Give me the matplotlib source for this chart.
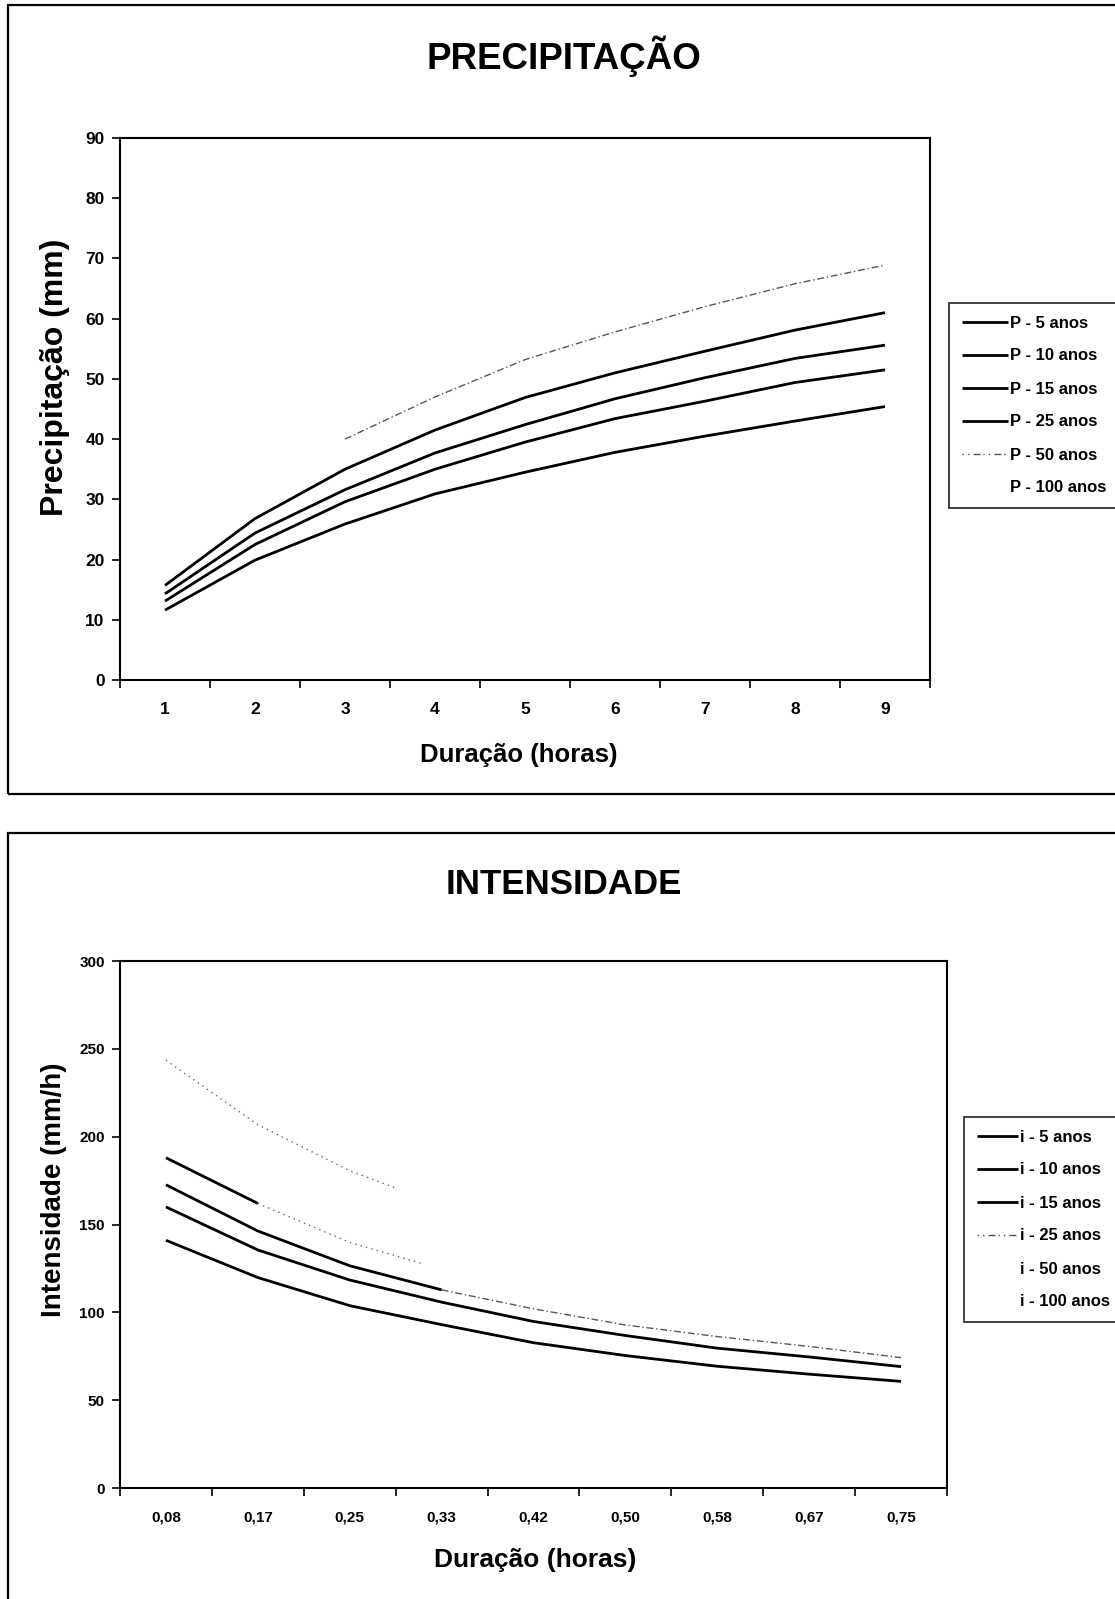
import numpy as np
import matplotlib
matplotlib.use("Agg")
import matplotlib.pyplot as plt
from matplotlib.lines import Line2D
from matplotlib.patches import Rectangle

plt.rcParams['font.family'] = ['Liberation Sans', 'DejaVu Sans']
plt.rcParams['font.weight'] = 'bold'

# ---- data -------------------------------------------------------------
dur_p = ['1', '2', '3', '4', '5', '6', '7', '8', '9']
p_5 = [11.6, 19.9, 25.9, 30.9, 34.5, 37.8, 40.5, 43.0, 45.4]
p_10 = [13.1, 22.5, 29.6, 35.0, 39.5, 43.4, 46.3, 49.4, 51.5]
p_15 = [14.3, 24.4, 31.6, 37.7, 42.4, 46.7, 50.2, 53.4, 55.6]
p_25 = [15.7, 26.8, 35.0, 41.5, 46.9, 51.0, 54.6, 58.1, 61.0]
p_50 = [np.nan, np.nan, 40.0, 47.0, 53.2, 57.8, 62.0, 65.8, 68.9]

dur_i = ['0,08', '0,17', '0,25', '0,33', '0,42', '0,50', '0,58', '0,67', '0,75']
i_5 = [141.0, 119.8, 103.8, 93.0, 82.7, 75.4, 69.3, 64.8, 60.7]
i_10 = [160.0, 135.5, 118.4, 105.8, 94.8, 86.8, 79.6, 74.6, 69.1]
i_15 = [172.6, 146.3, 126.5, 112.8, 102.0, 92.8, 86.2, 80.6, 74.2]
i_25 = [188.0, 162.0, 139.8, 124.5, np.nan, np.nan, np.nan, np.nan, np.nan]
i_100 = [243.5, 206.8, 180.6, 161.0, np.nan, np.nan, np.nan, np.nan, np.nan]

periods = ['5', '10', '15', '25', '50', '100']

# ---- figure -----------------------------------------------------------
W, H = 1115, 1599
fig = plt.figure(figsize=(W / 100, H / 100), dpi=100)


def fx(px):
    return px / W


def fy(py):
    return 1 - py / H


def frame(top, bottom):
    fig.patches.append(Rectangle((fx(8), fy(bottom)), fx(1300), (bottom - top) / H,
                                 transform=fig.transFigure, fill=False,
                                 lw=1.6, ec='black'))


def setup_axes(ax, cats, ymax, ystep, tsize):
    n = len(cats)
    ax.set_xlim(-0.5, n - 0.5)
    ax.set_ylim(0, ymax)
    ax.set_xticks(np.arange(-0.5, n, 1.0))
    ax.set_xticklabels([])
    ax.set_xticks(np.arange(n), minor=True)
    ax.set_xticklabels(cats, minor=True)
    ax.tick_params(axis='x', which='major', direction='out', length=6, width=1.2)
    ax.tick_params(axis='x', which='minor', length=0, pad=16, labelsize=tsize)
    ax.set_yticks(np.arange(0, ymax + 1, ystep))
    ax.tick_params(axis='y', direction='out', length=6, width=1.2, pad=5, labelsize=tsize)
    for sp in ax.spines.values():
        sp.set_linewidth(1.5)
        sp.set_color('black')


def clip_to(line, ax, xmax):
    r = Rectangle((-1, -1000), xmax + 1, 5000, transform=ax.transData)
    line.set_clip_path(r)


solid = dict(color='black', lw=2.0, solid_capstyle='butt')
faint = dict(color='#555555', lw=1.0, linestyle=(0, (5, 2, 1, 2)))
sparse = dict(color='#666666', lw=1.0, linestyle=(0, (1, 3)))

h_solid = Line2D([], [], **solid)
h_faint = Line2D([], [], color='#555555', lw=1.0, linestyle=(0, (1, 3, 1, 3, 5, 2)))
h_none = Line2D([], [], color='none')


def legend(handles, labels, left, top, hlen):
    leg = fig.legend(handles, labels, loc='upper left',
                     bbox_to_anchor=(fx(left), fy(top)),
                     frameon=True, fancybox=False, edgecolor='black',
                     handlelength=hlen, handletextpad=0.1, borderpad=0.75,
                     labelspacing=1.08, fontsize=12, borderaxespad=0)
    leg.get_frame().set_linewidth(1.3)
    return leg


# ---- PRECIPITAÇÃO -----------------------------------------------------
frame(5, 794)
fig.text(fx(564), fy(56), 'PRECIPITAÇÃO', ha='center', va='center', fontsize=26.5)
ax1 = fig.add_axes([fx(120), fy(680), fx(930 - 120), (680 - 138) / H])
xp = np.arange(len(dur_p))
for vals in (p_5, p_10, p_15, p_25):
    ax1.plot(xp, vals, **solid)
ax1.plot(xp, p_50, **faint)
setup_axes(ax1, dur_p, 90, 10, 12.5)
fig.text(fx(55), fy(377), 'Precipitação (mm)', rotation=90, ha='center', va='center', fontsize=23)
fig.text(fx(519), fy(755), 'Duração (horas)', ha='center', va='center', fontsize=18.5)

legend([h_solid, h_solid, h_solid, h_solid, h_faint, h_none],
       ['P - %s anos' % p for p in periods], 949, 303, 2.8)

# ---- INTENSIDADE ------------------------------------------------------
frame(833, 1700)
fig.text(fx(564), fy(884), 'INTENSIDADE', ha='center', va='center', fontsize=25)
ax2 = fig.add_axes([fx(120), fy(1488), fx(947 - 120), (1488 - 961) / H])
xi = np.arange(len(dur_i))
ax2.plot(xi, i_5, **solid)
ax2.plot(xi, i_10, **solid)
ax2.plot(xi[:4], i_15[:4], **solid)
ax2.plot(xi[3:], i_15[3:], **faint)
ax2.plot(xi[:2], i_25[:2], **solid)
l25 = ax2.plot(xi[1:4], i_25[1:4], **sparse)[0]
clip_to(l25, ax2, 2.8)
l100 = ax2.plot(xi[:4], i_100[:4], **sparse)[0]
clip_to(l100, ax2, 2.5)
setup_axes(ax2, dur_i, 300, 50, 11)
fig.text(fx(54), fy(1190), 'Intensidade (mm/h)', rotation=90, ha='center', va='center', fontsize=20)
fig.text(fx(535), fy(1560), 'Duração (horas)', ha='center', va='center', fontsize=19)

legend([h_solid, h_solid, h_solid, h_faint, h_none, h_none],
       ['i - %s anos' % p for p in periods], 964, 1117, 2.5)

fig.savefig('out.png', dpi=100)
